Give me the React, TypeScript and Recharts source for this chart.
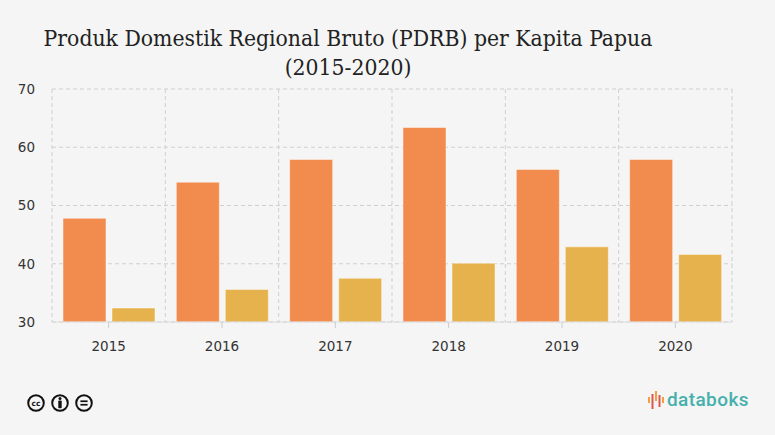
import * as React from "react";
import { Bar, BarChart, CartesianGrid, XAxis, YAxis } from "recharts";

// PDRB per kapita Papua (juta rupiah)
const years = ["2015", "2016", "2017", "2018", "2019", "2020"];
const adhb = [47.8, 54.0, 57.9, 63.4, 56.2, 57.9]; // harga berlaku
const adhk = [32.4, 35.6, 37.5, 40.1, 42.9, 41.6]; // harga konstan
const yTicks = [30, 40, 50, 60, 70];

const data = years.map((year, i) => ({ year, adhb: adhb[i], adhk: adhk[i] }));

const ORANGE = "#f28b4e";
const YELLOW = "#e6b24e";
const GRID = "#cfcfcf";

/** Vertical grid lines at the borders of each category band. */
function bandEdges({ xAxis, offset }: any): number[] {
  const scale = xAxis?.scale;
  if (typeof scale === "function" && typeof scale.bandwidth === "function") {
    const starts = years.map((y) => scale(y) as number);
    return [...starts, starts[starts.length - 1] + scale.bandwidth()];
  }
  const left = offset?.left ?? 52;
  const width = offset?.width ?? 680;
  const step = width / years.length;
  return years.map((_, i) => left + i * step).concat(left + width);
}

function CcBadges() {
  return (
    <svg width={84} height={24} style={{ position: "absolute", left: 25, top: 391 }}>
      <g fill="none" stroke="#111" strokeWidth={2}>
        <circle cx={11} cy={12} r={7.8} />
        <circle cx={35} cy={12} r={7.8} />
        <circle cx={59} cy={12} r={7.8} />
      </g>
      <text x={11} y={14.6} fontSize={7.5} fontWeight={700} textAnchor="middle" fontFamily="DejaVu Sans" fill="#111">
        cc
      </text>
      <circle cx={35} cy={7.4} r={1.5} fill="#111" />
      <rect x={33.3} y={9.4} width={3.4} height={7.8} rx={0.8} fill="#111" />
      <rect x={55.4} y={9.4} width={7.2} height={1.7} fill="#111" />
      <rect x={55.4} y={12.9} width={7.2} height={1.7} fill="#111" />
    </svg>
  );
}

function DataboksLogo() {
  const bars = [
    { x: 1, y1: 6, y2: 12, c: "#f0a040" },
    { x: 4.5, y1: 3, y2: 18, c: "#e2554b" },
    { x: 8, y1: 0, y2: 10, c: "#f0a040" },
    { x: 11.5, y1: 4, y2: 16, c: "#e2554b" },
    { x: 15, y1: 6, y2: 12, c: "#f0a040" },
  ];
  return (
    <div style={{ position: "absolute", left: 648, top: 389, display: "flex", alignItems: "center" }}>
      <svg width={18} height={22}>
        {bars.map((b) => (
          <line key={b.x} x1={b.x} x2={b.x} y1={b.y1 + 2} y2={b.y2 + 2} stroke={b.c} strokeWidth={2} />
        ))}
      </svg>
      <span
        style={{
          fontFamily: "Roboto, sans-serif",
          fontWeight: 500,
          fontSize: 19,
          letterSpacing: 0.4,
          color: "#45b0ac",
          marginLeft: 1,
          lineHeight: "22px",
        }}
      >
        databoks
      </span>
    </div>
  );
}

export default function App() {
  return (
    <div
      style={{
        position: "absolute",
        left: 0,
        top: 0,
        width: 775,
        height: 435,
        background: "#f5f5f5",
        overflow: "hidden",
      }}
    >
      <div
        style={{
          position: "absolute",
          left: 0,
          width: 696,
          top: 24,
          textAlign: "center",
          fontFamily: "'DejaVu Serif Condensed', 'DejaVu Serif', serif",
          fontSize: 22.7,
          lineHeight: "29px",
          color: "#222",
        }}
      >
        <div>Produk Domestik Regional Bruto (PDRB) per Kapita Papua</div>
        <div>(2015-2020)</div>
      </div>

      <BarChart
        width={775}
        height={435}
        data={data}
        margin={{ top: 89, right: 43, bottom: 83, left: 12 }}
        barCategoryGap={11}
        barGap={6}
        style={{ position: "absolute", left: 0, top: 0 }}
      >
        <CartesianGrid
          stroke={GRID}
          strokeDasharray="4 3"
          verticalCoordinatesGenerator={bandEdges}
        />
        <XAxis
          dataKey="year"
          height={30}
          axisLine={{ stroke: "#dcdcdc" }}
          tickLine={{ stroke: "#cccccc" }}
          tickSize={6}
          tickMargin={13}
          tick={{ fill: "#333", fontSize: 13.5, fontFamily: "'DejaVu Sans', Verdana, sans-serif" }}
        />
        <YAxis
          width={40}
          domain={[30, 70]}
          ticks={yTicks}
          axisLine={false}
          tickLine={false}
          tickMargin={11}
          tick={{ fill: "#333", fontSize: 13.5, fontFamily: "'DejaVu Sans', Verdana, sans-serif" }}
        />
        <Bar dataKey="adhb" fill={ORANGE} stroke="#fff" strokeOpacity={0.45} isAnimationActive={false} />
        <Bar dataKey="adhk" fill={YELLOW} stroke="#fff" strokeOpacity={0.45} isAnimationActive={false} />
      </BarChart>

      <CcBadges />
      <DataboksLogo />
    </div>
  );
}
